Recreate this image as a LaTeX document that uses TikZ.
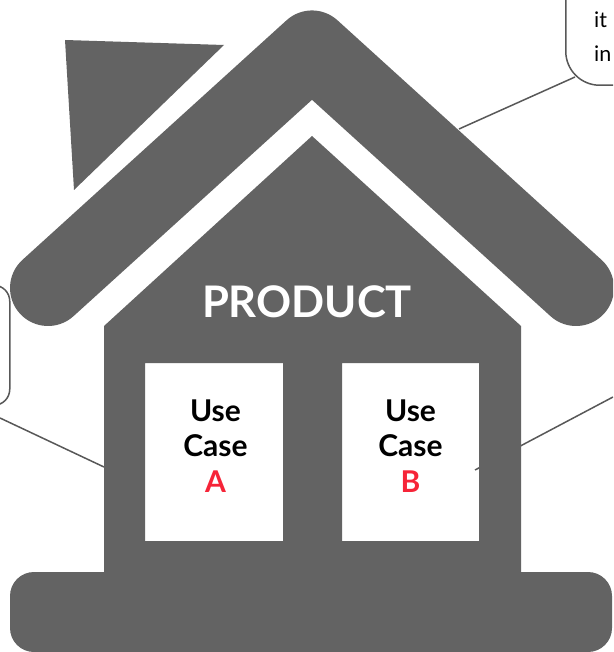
\documentclass[tikz,border=0pt]{standalone}
\usepackage{fontspec}
\setmainfont{Lato}
\usetikzlibrary{positioning}
\definecolor{housegray}{RGB}{99,99,99}
\definecolor{linegray}{RGB}{88,88,88}
\definecolor{casered}{RGB}{246,36,56}

\begin{document}
\begin{tikzpicture}[x=1pt,y=-1pt,
  housefill/.style={fill=housegray,draw=none},
  casetext/.style={font=\fontsize{30}{35.5}\selectfont\bfseries,align=center,inner sep=0pt},
  callout/.style={draw=linegray,line width=1.5pt,rounded corners=34pt,fill=white,inner sep=0pt},
  notetext/.style={font=\fontsize{21.5}{34}\selectfont,align=left,anchor=north west,inner sep=0pt},
  leader/.style={draw=linegray,line width=1.5pt}]

\clip[use as bounding box] (0,0) rectangle (613,652);

% speech boxes run off the page
\node[callout,minimum width=200pt,minimum height=200pt,anchor=south west] (topnote) at (565,86) {};
\node[notetext] (topnotetext) at (594,12) {it\\in};
\node[callout,rounded corners=16pt,minimum width=200pt,minimum height=120pt,anchor=south east] (leftnote) at (10.5,406) {};

% leaders go behind the house
\coordinate (roofend) at (459,129);
\coordinate (topend) at (575,77);
\coordinate (leftout) at (0,418);
\coordinate (leftwall) at (104,467);
\coordinate (rightout) at (613,397);
\coordinate (rightin) at (475,470);
\draw[leader] (topend) -- (roofend);
\draw[leader] (leftout) -- (leftwall);
\draw[leader] (rightout) -- (rightin);

% chimney, roof, walls with window holes, base
\fill[housefill] (65,40) -- (224,45) -- (74,190) -- cycle;
\draw[housegray,line width=76pt,line cap=round,line join=round] (48,288) -- (312,48.5) -- (576,288);
\fill[housefill,even odd rule] (312,136) -- (521,326) -- (521,600) -- (104,600) -- (104,326) -- cycle
  (145,363) rectangle (283,541) (342,363) rectangle (479,541);
\fill[housefill,rounded corners=24pt] (10,572) rectangle (612,652);

\node[font=\fontsize{43.5}{43.5}\selectfont\bfseries,text=white,inner sep=0pt] (product) at (307,302) {PRODUCT};
\node[casetext] (caseA) at (215.5,446) {Use\\Case\\\textcolor{casered}{A}};
\node[casetext] (caseB) at (410.5,446) {Use\\Case\\\textcolor{casered}{B}};
\end{tikzpicture}
\end{document}
